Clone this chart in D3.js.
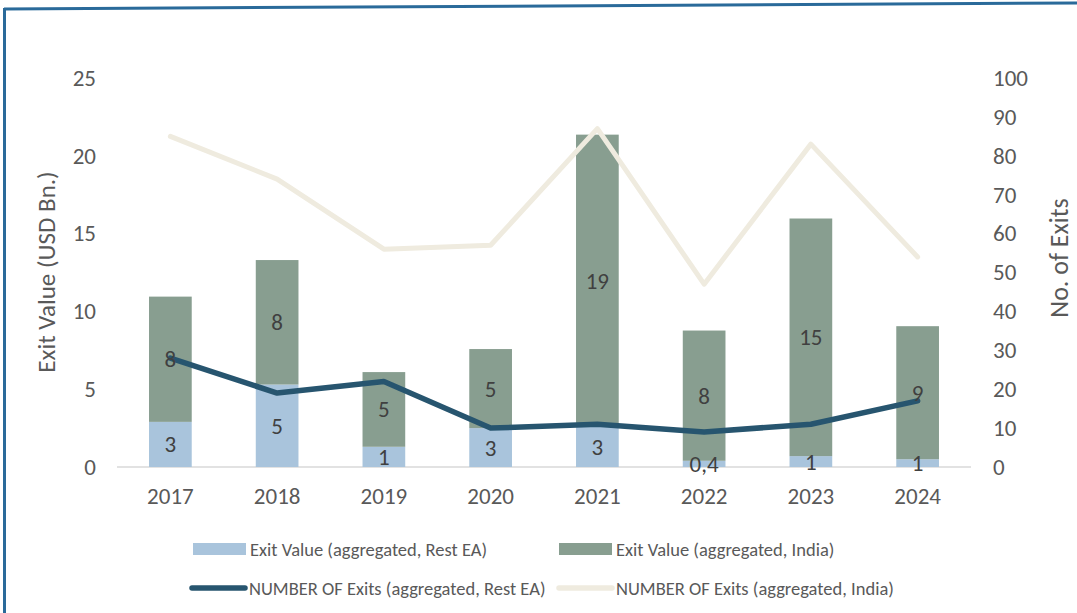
<!DOCTYPE html>
<html>
<head>
<meta charset="utf-8">
<script src="https://cdn.jsdelivr.net/npm/d3@7"></script>
<style>
  html, body { margin: 0; padding: 0; background: #fff; }
  svg { display: block; }
  text { font-family: Carlito, Calibri, Lato, "Open Sans", sans-serif; }
</style>
</head>
<body>
<svg id="chart" width="1077" height="613"></svg>
<script>
const years = ["2017", "2018", "2019", "2020", "2021", "2022", "2023", "2024"];
const valueRestEA = [2.9, 5.3, 1.3, 2.5, 2.6, 0.4, 0.7, 0.5];
const valueIndia = [8.05, 8.0, 4.8, 5.08, 18.76, 8.37, 15.27, 8.55];
const exitsRestEA = [28, 19, 22, 10, 11, 9, 11, 17];
const exitsIndia = [85, 74, 56, 57, 87, 47, 83, 54];
const leftTicks = [0, 5, 10, 15, 20, 25];
const rightTicks = [0, 10, 20, 30, 40, 50, 60, 70, 80, 90, 100];

const svg = d3.select("#chart");
const colRest = "#a9c4dc", colIndia = "#889e90", colLineRest = "#27556f", colLineIndia = "#efebdf";
const textCol = "#595959", labelCol = "#404040";

// border
svg.append("line").attr("x1", 4).attr("y1", 9).attr("x2", 1077).attr("y2", 3)
  .attr("stroke", "#2a6a9a").attr("stroke-width", 3);
svg.append("line").attr("x1", 4.5).attr("y1", 8).attr("x2", 4.5).attr("y2", 613)
  .attr("stroke", "#2a6a9a").attr("stroke-width", 3);

const x = d3.scaleBand().domain(years).range([117, 971]).paddingInner(0.6).paddingOuter(0.3);
const y = d3.scaleLinear().domain([0, 25]).range([467, 78]);
const y2 = d3.scaleLinear().domain([0, 100]).range([467, 78]);

// baseline
svg.append("line").attr("x1", 117).attr("x2", 971).attr("y1", y(0)).attr("y2", y(0))
  .attr("stroke", "#d9d9d9").attr("stroke-width", 1.5);

// axes
const leftAxis = svg.append("g").attr("transform", "translate(96,0)")
  .call(d3.axisLeft(y).tickValues(leftTicks).tickSize(0).tickPadding(0));
const rightAxis = svg.append("g").attr("transform", "translate(993,0)")
  .call(d3.axisRight(y2).tickValues(rightTicks).tickSize(0).tickPadding(0));
const bottomAxis = svg.append("g").attr("transform", "translate(0,488)")
  .call(d3.axisBottom(x).tickSize(0).tickPadding(0));
[leftAxis, rightAxis, bottomAxis].forEach(g => {
  g.select(".domain").remove();
  g.selectAll("text").attr("fill", textCol).style("font-size", "23px")
    .style("font-family", "Carlito, Calibri, Lato, 'Open Sans', sans-serif");
});
bottomAxis.selectAll("text").attr("dy", "0.71em");

// axis titles
svg.append("text").attr("transform", "translate(46,272) rotate(-90)")
  .attr("text-anchor", "middle").attr("dominant-baseline", "central")
  .attr("fill", textCol).style("font-size", "25px").text("Exit Value (USD Bn.)");
svg.append("text").attr("transform", "translate(1059,258) rotate(-90)")
  .attr("text-anchor", "middle").attr("dominant-baseline", "central")
  .attr("fill", textCol).style("font-size", "26px").text("No. of Exits");

// stacked bars
const rows = years.map((yr, i) => ({ year: yr, rest: valueRestEA[i], india: valueIndia[i] }));
const stack = d3.stack().keys(["rest", "india"])(rows);
const colors = { rest: colRest, india: colIndia };
svg.append("g").selectAll("g").data(stack).join("g")
  .attr("fill", d => colors[d.key])
  .selectAll("rect").data(d => d).join("rect")
  .attr("x", d => x(d.data.year)).attr("width", x.bandwidth())
  .attr("y", d => y(d[1])).attr("height", d => y(d[0]) - y(d[1]));

// lines
const line = d3.line().x((d, i) => x(years[i]) + x.bandwidth() / 2).y(d => y2(d));
svg.append("path").datum(exitsIndia).attr("d", line).attr("fill", "none")
  .attr("stroke", colLineIndia).attr("stroke-width", 5).attr("stroke-linejoin", "round").attr("stroke-linecap", "round");
svg.append("path").datum(exitsRestEA).attr("d", line).attr("fill", "none")
  .attr("stroke", colLineRest).attr("stroke-width", 5.5).attr("stroke-linejoin", "round").attr("stroke-linecap", "round");

// data labels
const fmt = v => v < 0.5 ? d3.format(".1f")(v).replace(".", ",") : d3.format(".0f")(v);
svg.append("g").selectAll("g").data(stack).join("g")
  .selectAll("text").data(d => d).join("text")
  .attr("x", d => x(d.data.year) + x.bandwidth() / 2)
  .attr("y", d => (y(d[0]) + y(d[1])) / 2)
  .attr("text-anchor", "middle").attr("dominant-baseline", "central")
  .attr("fill", labelCol).style("font-size", "23px")
  .text(d => fmt(d[1] - d[0]));

// legend
const lg = svg.append("g").style("font-size", "18.5px").attr("fill", textCol);
const legendItems = [
  { type: "rect", color: colRest, label: "Exit Value (aggregated, Rest EA)", x: 193, y: 549 },
  { type: "rect", color: colIndia, label: "Exit Value (aggregated, India)", x: 559, y: 549 },
  { type: "line", color: colLineRest, label: "NUMBER OF Exits (aggregated, Rest EA)", x: 190, y: 588 },
  { type: "line", color: colLineIndia, label: "NUMBER OF Exits (aggregated, India)", x: 557, y: 588 }
];
legendItems.forEach(it => {
  if (it.type === "rect") {
    lg.append("rect").attr("x", it.x).attr("y", it.y - 6).attr("width", 53).attr("height", 12).attr("fill", it.color);
    lg.append("text").attr("x", it.x + 57).attr("y", it.y).attr("dominant-baseline", "central").text(it.label);
  } else {
    lg.append("line").attr("x1", it.x + 2).attr("x2", it.x + 55).attr("y1", it.y).attr("y2", it.y)
      .attr("stroke", it.color).attr("stroke-width", 5.5).attr("stroke-linecap", "round");
    lg.append("text").attr("x", it.x + 59).attr("y", it.y).attr("dominant-baseline", "central").text(it.label);
  }
});
</script>
</body>
</html>
